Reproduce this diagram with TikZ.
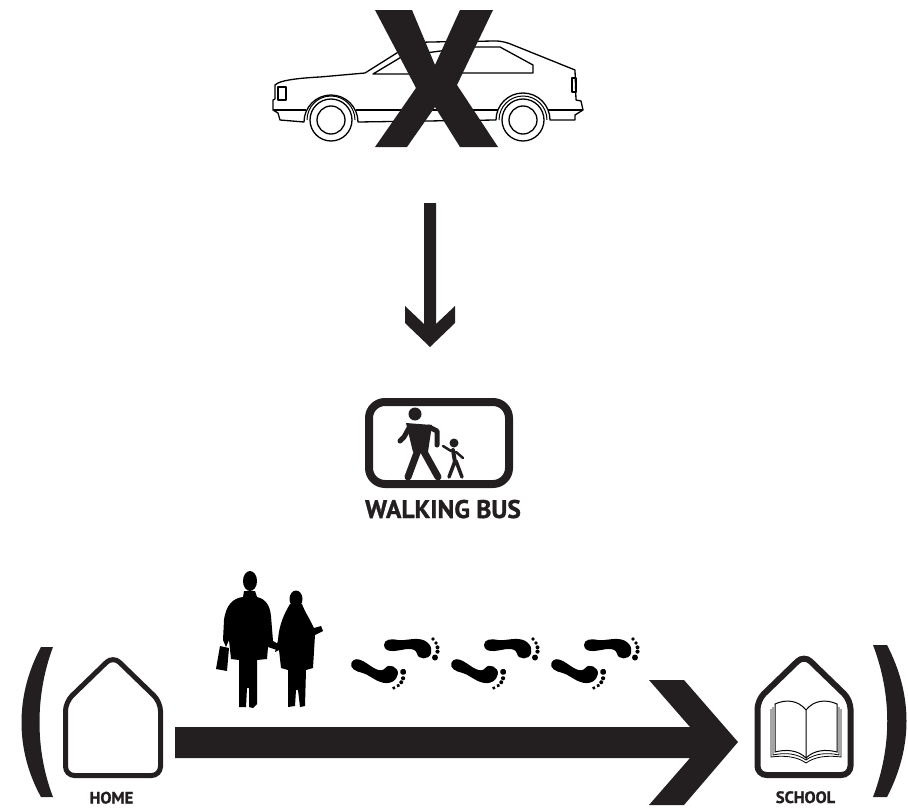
\documentclass[tikz,border=0pt]{standalone}
\usepackage{fontspec}
\setmainfont{PT Sans}
\newfontfamily\capfont{PT Sans}[BoldFeatures={FakeBold=1.2}]
\definecolor{ink}{HTML}{231F20}

\tikzset{
  foot/.pic={
    \fill (-6,0) .. controls (-6,-6) and (2,-6.5) .. (8,-5) .. controls (14,-4) and (20,-6.5) .. (28,-6)
      .. controls (38,-5.5) and (43,2) .. (41,8.5) .. controls (39,15) and (28,15) .. (27,8.5)
      .. controls (26,5) and (23,4) .. (19,4) .. controls (14,4) and (10,5.5) .. (4,6)
      .. controls (-1,6.5) and (-6,5) .. (-6,0) -- cycle;
    \foreach \tx/\ty/\tr in {43/-6/1.8, 46/-2/1.9, 47.5/2.3/2, 47.5/6.6/2.1, 45/12.5/3}
      \fill (\tx,\ty) circle (\tr);
  }
}

\begin{document}
\begin{tikzpicture}[x=1pt,y=-1pt]
        \tikzstyle{carline}=[line width=1.3pt, line join=round]
        \tikzstyle{caption}=[text=ink, inner sep=0pt, anchor=base]
        \useasboundingbox (0,0) rectangle (908,811);

        % the car
        \draw[carline] (278,83) .. controls (284,80) and (300,78) .. (320,77) -- (365,73) -- (400,51)
          .. controls (410,45) and (420,42) .. (430,42) -- (495,41) .. controls (503,41) and (508,43) .. (513,45)
          -- (575,70) -- (576,100) -- (581,101) -- (583,110) -- (575,115) -- (575,120) -- (550,120)
          arc[start angle=0, end angle=-180, radius=27] -- (358,122)
          arc[start angle=0, end angle=-180, radius=27] -- (280,120) -- (278,113) -- (273,110)
          -- (273,100) -- (275,99) -- (275,85) -- cycle;
        \draw[carline] (273,110) -- (306,110) (356,110) -- (498,110) (548,110) -- (583,110);
        \draw[carline] (278,87) rectangle (286,100);
        \draw[carline] (572,78) rectangle (576,92);
        \draw[carline] (373,74) -- (403,56) -- (448,50) -- (448,74) -- cycle;
        \draw[carline] (462,73) -- (462,47) -- (500,47) -- (533,65) -- (533,73) -- cycle;
        \foreach \wx in {331,523} {
          \draw[carline, fill=white] (\wx,120) circle (21);
          \draw[carline] (\wx,120) circle (14);
          \draw[line width=1pt] (\wx-24,120) arc[start angle=180, end angle=360, radius=24];
        }
        \fill[ink] (375,10) -- (412,10) -- (435,65) -- (460,10) -- (493,10) -- (457,85) -- (498,147)
          -- (460,147) -- (435,107) -- (407,147) -- (375,147) -- (416,88) -- cycle;

        % down arrow
        \fill[ink] (424,203) -- (436,203) -- (436,324) -- (455,306) -- (455,323) -- (430,347)
          -- (405,323) -- (405,306) -- (424,324) -- cycle;

        % walking bus sign
        \draw[ink, line width=8pt, rounded corners=16pt] (369,402) rectangle (509,484);
        \fill[ink] (415,414) circle (6.5);
        \fill[ink] (406,423) -- (432,425) -- (428,452) -- (413,452) -- cycle;
        \draw[ink, line width=5pt, line cap=round, line join=round] (429,427) -- (437,431) -- (437,445);
        \draw[ink, line width=5pt, line cap=round, line join=round] (409,428) -- (404,437) -- (400,441);
        \draw[ink, line width=7pt, line cap=round] (418,450) -- (408,477) (423,450) -- (438,477);
        \fill[ink] (454,443) circle (4.5);
        \draw[ink, line width=4pt, line cap=round, line join=round] (453,450) -- (455,462);
        \draw[ink, line width=2.5pt, line cap=round] (451,451) -- (443,446) (456,452) -- (463,458);
        \draw[ink, line width=3.5pt, line cap=round] (455,461) -- (449,477) (456,461) -- (462,477);
        \node[caption, font=\capfont\bfseries\fontsize{25.5}{25.5}\selectfont] (busname) at (443,518) {WALKING BUS};

        % two walkers
        \fill (250,581) ellipse [x radius=7, y radius=10];
        \fill (244,591) -- (255,591) -- (257,597) .. controls (266,599) and (270,606) .. (271,616)
          -- (273,641) -- (280,645) -- (277,650) -- (268,647) -- (267,659) -- (257,660) -- (257,704)
          -- (253,708) -- (249,707) -- (249,688) -- (247,688) -- (246,707) -- (239,707) -- (239,660)
          -- (231,659) -- (229,640) -- (226,647) -- (223,640) -- (224,620)
          .. controls (226,605) and (233,598) .. (243,597) -- cycle;
        \fill (220,646) -- (229,648) -- (227,671) -- (216,669) -- cycle;
        \fill (296,599) ellipse [x radius=6.5, y radius=8.5];
        \fill (290,604) -- (302,604) .. controls (305,612) and (308,616) .. (311,622) -- (314,628)
          -- (321,626) -- (323,631) -- (315,635) -- (313,668) -- (306,670) -- (305,706) -- (300,707)
          -- (298,690) -- (296,690) -- (295,706) -- (288,707) -- (288,670) -- (281,668) -- (279,650)
          -- (275,652) -- (278,640) .. controls (279,625) and (284,614) .. (290,604) -- cycle;

        % footprints
        \foreach \dx in {0,100,200} {
          \pic at (390+\dx,645) {foot};
          \pic[rotate=-24, yscale=-1] at (357+\dx,665) {foot};
        }

        % home to school
        \fill[ink] (175,727) -- (690,727) -- (649,680) -- (684,680) -- (738,742) -- (684,805)
          -- (649,805) -- (690,758) -- (175,758) -- cycle;
        \fill[ink] (41,647) .. controls (15,695) and (15,750) .. (41,797) -- (53,797)
          .. controls (35,750) and (35,695) .. (53,647) -- cycle;
        \fill[ink] (873,645) -- (887,645) .. controls (913,695) and (913,747) .. (887,797) -- (873,797)
          .. controls (892,747) and (892,695) .. (873,645) -- cycle;

        \draw[ink, line width=5pt, rounded corners=9pt] (65.5,702) -- (113,656) -- (160.5,702)
          -- (160.5,775.5) -- (65.5,775.5) -- cycle;
        \node[caption, font=\capfont\bfseries\fontsize{16.5}{16.5}\selectfont] (home) at (111.5,803.5) {HOME};

        \draw[ink, line width=6pt, rounded corners=9pt] (757.5,700) -- (804,655) -- (850.5,700)
          -- (850.5,775) -- (757.5,775) -- cycle;
        \draw[line width=1pt] (806,710) .. controls (798,700) and (786,699) .. (775,704) -- (775,752)
          .. controls (786,749) and (798,750) .. (806,758) -- cycle;
        \draw[line width=1pt] (806,710) .. controls (814,700) and (826,699) .. (837,704) -- (837,752)
          .. controls (826,749) and (814,750) .. (806,758);
        \draw[line width=0.8pt] (773,707) -- (773,755) .. controls (786,752) and (798,754) .. (806,760)
          .. controls (814,754) and (826,752) .. (839,755) -- (839,707);
        \draw[line width=0.8pt] (771,709) -- (771,757) .. controls (785,755) and (798,757) .. (806,763)
          .. controls (814,757) and (827,755) .. (841,757) -- (841,709);
        \node[caption, font=\capfont\bfseries\fontsize{16.5}{16.5}\selectfont] (school) at (805.5,803) {SCHOOL};
\end{tikzpicture}
\end{document}
